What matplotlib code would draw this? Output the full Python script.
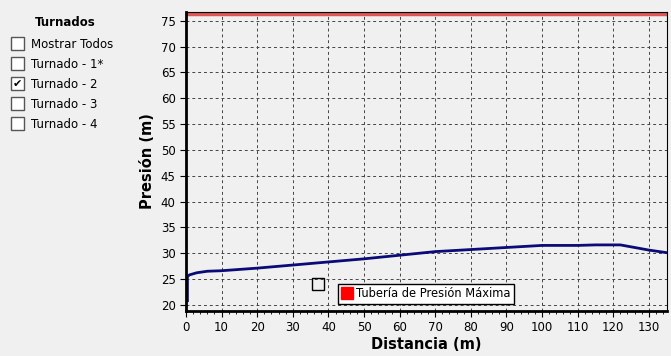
import numpy as np
import matplotlib.pyplot as plt
from matplotlib.patches import Rectangle
from matplotlib.lines import Line2D

# pressure profile
dist = [0.4, 0.4, 1, 3, 6, 10, 20, 30, 40, 50, 60, 70, 80, 90, 100, 110, 115, 122, 126, 130, 135]
pres = [20.8, 25.5, 25.8, 26.2, 26.5, 26.6, 27.1, 27.7, 28.3, 28.9, 29.6, 30.3, 30.7, 31.1, 31.5, 31.5, 31.6, 31.6, 31.1, 30.6, 30.1]
max_line = 76.3
marker_x, marker_y = 37, 24

turnados = ['Mostrar Todos', 'Turnado - 1*', 'Turnado - 2', 'Turnado - 3', 'Turnado - 4']
checked = [False, False, True, False, False]

bg = '#f0f0f0'
plt.rcParams['font.family'] = ['DejaVu Sans']

fig = plt.figure(figsize=(6.71, 3.56), dpi=100, facecolor=bg)
ax = fig.add_axes([0.2772, 0.1264, 0.7168, 0.8399])
ax.set_facecolor(bg)

ax.plot(dist, pres, color='#0a0a78', lw=2)
ax.axhline(max_line, color='#e05555', lw=2.5)
ax.plot([marker_x], [marker_y], marker='s', ms=9, mfc='none', mec='black', mew=1)

ax.set_xlim(0, 135.1)
ax.set_ylim(18.8, 76.7)
ax.set_xticks(np.arange(0, 131, 10))
ax.set_yticks(np.arange(20, 76, 5))
ax.set_xticks(np.arange(0, 135, 2), minor=True)
ax.grid(True, which='major', color='#444444', ls=(0, (3, 3)), lw=0.7)
ax.tick_params(which='major', direction='out', length=4, labelsize=8.5)
ax.tick_params(which='minor', direction='out', length=2.5)
for s in ['left', 'bottom']:
    ax.spines[s].set_linewidth(2)
for s in ['top', 'right']:
    ax.spines[s].set_linewidth(0.8)

ax.set_xlabel('Distancia (m)', fontsize=10.5, fontweight='bold', labelpad=2)
ax.set_ylabel('Presión (m)', fontsize=10.5, fontweight='bold', labelpad=4)

handle = Line2D([], [], ls='none', marker='s', ms=8, mfc='red', mec='red')
leg = ax.legend([handle], ['Tubería de Presión Máxima'], loc='lower left',
                bbox_to_anchor=(0.305, 0.005), fontsize=8.3, frameon=True,
                fancybox=False, edgecolor='black', facecolor='white',
                handlelength=0.8, handletextpad=0.4, borderpad=0.3, framealpha=1)
leg.get_frame().set_linewidth(1)

# left selector panel
fig.text(65 / 671, 1 - 22 / 356, 'Turnados', fontsize=8.5, fontweight='bold',
         ha='center', va='center')
for i, (name, chk) in enumerate(zip(turnados, checked)):
    yc = 44 + 20 * i
    fig.patches.append(Rectangle((11 / 671, 1 - (yc + 6) / 356), 13 / 671, 13 / 356,
                                 transform=fig.transFigure, facecolor='white',
                                 edgecolor='#555555', lw=1))
    if chk:
        fig.text(17.5 / 671, 1 - yc / 356, '✔', fontsize=8, ha='center', va='center')
    fig.text(31 / 671, 1 - yc / 356, name, fontsize=8.5, ha='left', va='center')

fig.savefig('out.png', dpi=100, facecolor=bg)
